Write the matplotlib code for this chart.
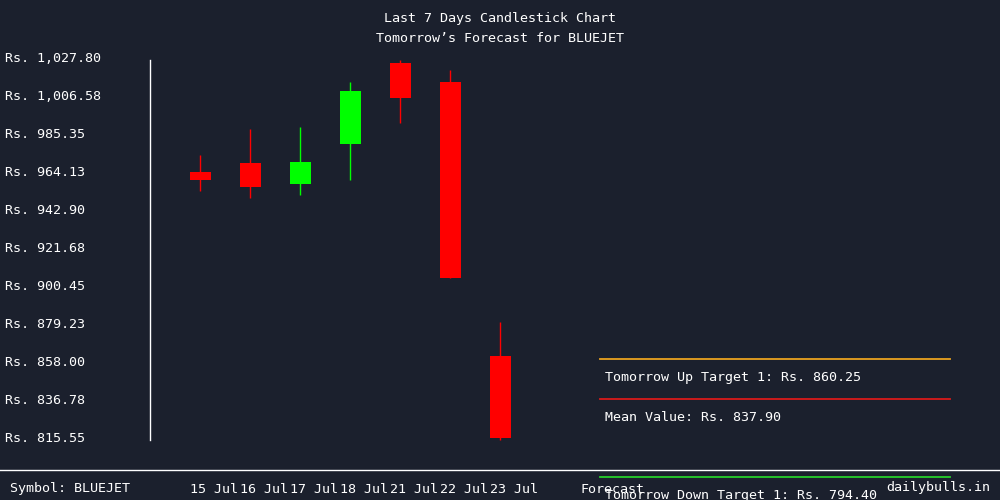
import matplotlib
matplotlib.use('Agg')
import matplotlib.pyplot as plt
import matplotlib.transforms as mtransforms
from matplotlib.lines import Line2D

# 数据
dates = ['15 Jul', '16 Jul', '17 Jul', '18 Jul', '21 Jul', '22 Jul', '23 Jul']
opens = [964.96, 969.99, 958.43, 980.77, 1025.84, 1015.23, 862.19]
highs = [974.46, 988.98, 990.10, 1015.23, 1027.80, 1021.94, 881.18]
lows = [954.35, 950.61, 952.12, 960.66, 992.50, 905.50, 815.00]
closes = [960.49, 956.59, 970.55, 1010.21, 1006.46, 905.92, 816.56]

y_ticks = [815.55, 836.78, 858.00, 879.23, 900.45, 921.68, 942.90,
           964.13, 985.35, 1006.58, 1027.80]

target_labels = ['Tomorrow Up Target 1', 'Mean Value', 'Tomorrow Down Target 1']
target_values = [860.25, 837.90, 794.40]
target_colors = ['#eaa21f', '#d91a1a', '#25d02a']

symbol = 'BLUEJET'

BG = '#1b202d'
FG = '#ffffff'
FONT = 'DejaVu Sans Mono'
FS = 9.6

plt.rcParams['font.family'] = [FONT, 'DejaVu Sans']

fig = plt.figure(figsize=(10, 5), dpi=100, facecolor=BG)
ax = fig.add_axes([0.15, 0.121, 0.85, 0.76])
ax.set_facecolor(BG)
ax.set_xlim(-1, 16)
ax.set_ylim(min(y_ticks), max(y_ticks))

for side in ['top', 'right', 'bottom']:
    ax.spines[side].set_visible(False)
ax.spines['left'].set_color(FG)
ax.spines['left'].set_linewidth(1.0)
ax.set_xticks([])
ax.set_yticks([])

# 蜡烛
xs = list(range(len(dates)))
for i in xs:
    color = '#00ff00' if closes[i] >= opens[i] else '#ff0000'
    ax.vlines(i, lows[i], highs[i], color=color, linewidth=1.0, clip_on=False)
    ax.bar(i, closes[i] - opens[i], bottom=opens[i], width=0.42,
           color=color, linewidth=0)

# y 轴标签 (略微上移)
up2 = mtransforms.ScaledTranslation(0, 2 / 100, fig.dpi_scale_trans)
ytrans = mtransforms.blended_transform_factory(fig.transFigure, ax.transData) + up2
for v in y_ticks:
    ax.text(0.005, v, f'Rs. {v:,.2f}', transform=ytrans, color=FG,
            fontsize=FS, ha='left', va='center_baseline')

# x 轴标签
xtrans = mtransforms.blended_transform_factory(ax.transData, fig.transFigure)
for i, d in zip(xs, dates):
    ax.text(i - 0.21, 0.024, d, transform=xtrans, color=FG, fontsize=FS,
            ha='left', va='center_baseline', clip_on=False)
fig.text(0.58, 0.024, 'Forecast', color=FG, fontsize=FS,
         ha='left', va='center_baseline')

# 预测目标
for lab, val, col in zip(target_labels, target_values, target_colors):
    ax.plot([8, 15], [val, val], color=col, linewidth=1.3, clip_on=False)
    ax.annotate(f'{lab}: Rs. {val:.2f}', xy=(8.1, val), xytext=(0, -11.8),
                textcoords='offset points', color=FG, fontsize=FS,
                ha='left', va='center_baseline', annotation_clip=False)

# 标题
fig.text(0.5, 0.966, 'Last 7 Days Candlestick Chart', color=FG, fontsize=FS,
         ha='center', va='center_baseline')
fig.text(0.5, 0.926, f'Tomorrow\u2019s Forecast for {symbol}', color=FG,
         fontsize=FS, ha='center', va='center_baseline')

# 底部
fig.add_artist(Line2D([0, 1], [0.06, 0.06], color=FG, linewidth=1.0,
                      transform=fig.transFigure))
fig.text(0.01, 0.026, f'Symbol: {symbol}', color=FG, fontsize=FS,
         ha='left', va='center_baseline')
fig.text(0.99, 0.028, 'dailybulls.in', color=FG, fontsize=FS,
         ha='right', va='center_baseline')

fig.savefig('out.png', dpi=100, facecolor=BG)
